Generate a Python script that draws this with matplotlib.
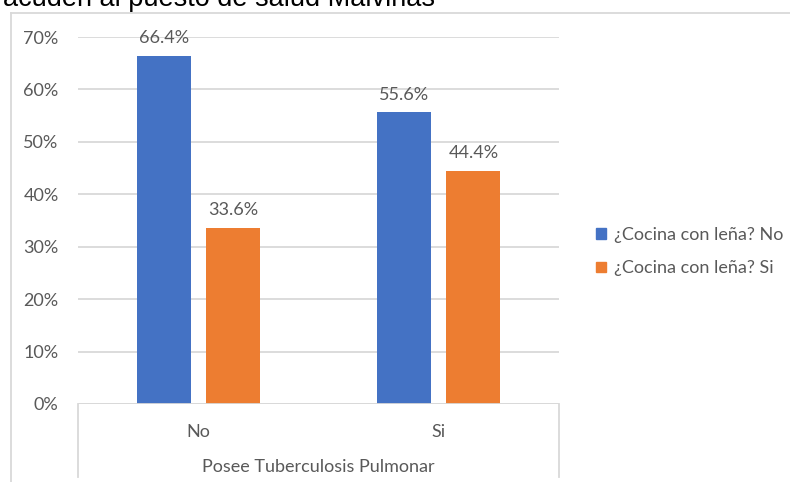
import matplotlib
matplotlib.use("Agg")
import matplotlib.pyplot as plt
from matplotlib.lines import Line2D
from matplotlib.patches import Patch
from matplotlib.transforms import blended_transform_factory
import numpy as np

categories = ["No", "Si"]
series_names = ["¿Cocina con leña? No", "¿Cocina con leña? Si"]
cocina_no = [66.4, 55.6]
cocina_si = [33.6, 44.4]
yticks = [0, 10, 20, 30, 40, 50, 60, 70]
axis_group_label = "Posee Tuberculosis Pulmonar"
title_text = "acuden al puesto de salud Malvinas"

BLUE = "#4472C4"
ORANGE = "#ED7D31"
TEXT = "#595959"
GRID = "#D9D9D9"
FONT = ["Lato", "DejaVu Sans"]
FS = 13

W, H = 790, 482
fig = plt.figure(figsize=(W / 100, H / 100), dpi=100)
fig.patch.set_facecolor("white")

def fx(px):
    return px / W

def fy(py):
    return 1 - py / H

# outer chart frame (top and left edges visible)
fig.add_artist(Line2D([fx(11), fx(11)], [fy(13), 0], transform=fig.transFigure,
                      color=GRID, lw=1.3))
fig.add_artist(Line2D([fx(11), 1], [fy(13), fy(13)], transform=fig.transFigure,
                      color=GRID, lw=1.3))

# chart title, running past the top edge
fig.text(fx(3), fy(6), title_text, fontsize=19.5, color="black",
         family=["Liberation Sans", "DejaVu Sans"], ha="left", va="baseline")

ax = fig.add_axes([fx(78), fy(404), fx(559) - fx(78), fy(37) - fy(404)])
x = np.arange(len(categories))
bw = 0.225
off = 0.144
b1 = ax.bar(x - off, cocina_no, bw, color=BLUE, zorder=3)
b2 = ax.bar(x + off, cocina_si, bw, color=ORANGE, zorder=3)

for bars, vals in ((b1, cocina_no), (b2, cocina_si)):
    for rect, v in zip(bars, vals):
        ax.annotate(f"{v:.1f}%", (rect.get_x() + rect.get_width() / 2, v),
                    xytext=(0, 7), textcoords="offset points", ha="center",
                    va="bottom", fontsize=FS, color=TEXT, family=FONT)

ax.set_xlim(-0.5, 1.5)
ax.set_ylim(0, 70)
ax.set_yticks(yticks)
ax.set_yticklabels([f"{t}%" for t in yticks], fontsize=FS, color=TEXT, family=FONT)
ax.tick_params(axis="y", length=0, pad=14)
ax.set_xticks([])
ax.yaxis.grid(True, color=GRID, lw=1.3, zorder=0)
for s in ax.spines.values():
    s.set_visible(False)

# category axis box
ax.axhline(0, color=GRID, lw=1.3, zorder=4)
for xv in (0, 1):
    ax.add_artist(Line2D([xv, xv], [0, -0.2], transform=ax.transAxes,
                         color=GRID, lw=1.3, clip_on=False))
cat_tr = blended_transform_factory(ax.transData, fig.transFigure)
for xi, lab in zip(x, categories):
    ax.text(xi, fy(432), lab, transform=cat_tr, ha="center", va="center",
            fontsize=FS, color=TEXT, family=FONT)
fig.text((fx(78) + fx(559)) / 2, fy(467), axis_group_label, ha="center",
         va="center", fontsize=FS, color=TEXT, family=FONT)

handles = [Patch(color=BLUE), Patch(color=ORANGE)]
fig.legend(handles, series_names, loc="upper left",
           bbox_to_anchor=(fx(589), fy(220)), frameon=False,
           prop={"family": FONT, "size": FS}, labelcolor=TEXT,
           handlelength=0.55, handleheight=0.55, handletextpad=0.45,
           labelspacing=0.95, borderaxespad=0)

fig.savefig("out.png", dpi=100)
